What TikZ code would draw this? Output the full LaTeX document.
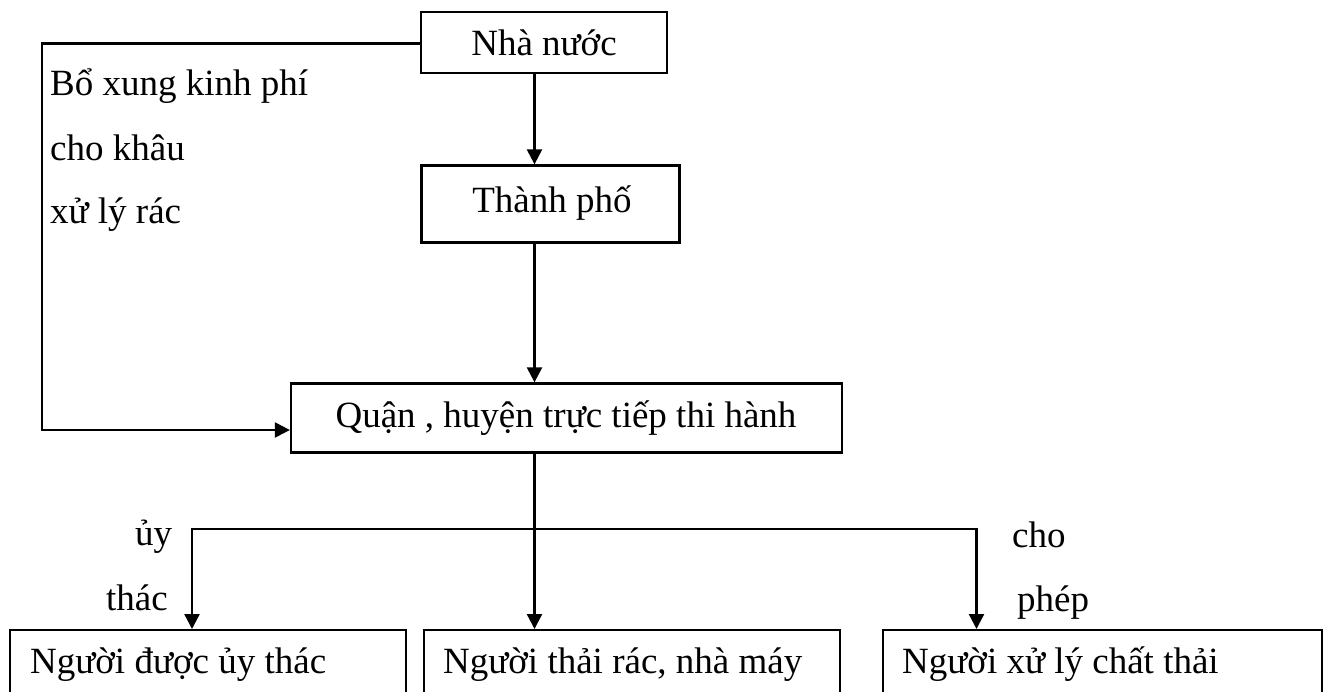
\documentclass[tikz,border=0pt]{standalone}
\usepackage{fontspec}
\setmainfont{Liberation Serif}
\usetikzlibrary{arrows.meta}
\begin{document}
\begin{tikzpicture}[x=1pt,y=-1pt,
  line width=2.3pt,
  box/.style={draw, rectangle, inner sep=0pt, line width=2.3pt},
  txt/.style={anchor=base, inner sep=0pt},
  lbl/.style={anchor=base west, inner sep=0pt},
  arr/.style={-{Triangle[width=15pt,length=15pt]}},
  font=\fontsize{37}{44}\selectfont]
\useasboundingbox (0,0) rectangle (1324,691);
\clip (0,0) rectangle (1324,691);

% boxes
\node[box, minimum width=246pt, minimum height=61pt] (nn) at (544,42.5) {};
\node[box, minimum width=258pt, minimum height=77pt] (tp) at (550.5,204) {};
\node[box, minimum width=551pt, minimum height=69pt] (qh) at (566.5,418) {};
\node[box, anchor=north west, minimum width=396pt, minimum height=150pt] (bl) at (9,629) {};
\node[box, anchor=north west, minimum width=416pt, minimum height=150pt] (bm) at (423,629) {};
\node[box, anchor=north west, minimum width=439pt, minimum height=150pt] (br) at (882,629) {};

% box texts
\node[txt] (nnt) at (544,55) {Nhà nước};
\node[txt] (tpt) at (552,212) {Thành phố};
\node[txt] (qht) at (566,427) {Quận , huyện trực tiếp thi hành};
\node[lbl] (blt) at (29,673) {Người được ủy thác};
\node[lbl] (bmt) at (442,673) {Người thải rác, nhà máy};
\node[lbl] (brt) at (901,673) {Người xử lý chất thải};

% side labels
\node[lbl] (s1) at (49,95) {Bổ xung kinh phí};
\node[lbl] (s2) at (49,160) {cho khâu};
\node[lbl] (s3) at (49,223) {xử lý rác};
\node[lbl] (u1) at (134,545) {ủy};
\node[lbl] (u2) at (105,610) {thác};
\node[lbl] (c1) at (1011,547) {cho};
\node[lbl] (c2) at (1016,611) {phép};

% connector routing points
\coordinate (spine) at (534.5,0);
\coordinate (lc) at (42,430);
\coordinate (bj) at (534.5,529);
\coordinate (lx) at (192,0);
\coordinate (rx) at (976.5,0);

% connectors
\draw[arr] (nn.west |- 0,43.5) -| (lc) -- (lc -| qh.west);
\draw[arr] (spine |- nn.south) -- (spine |- tp.north);
\draw[arr] (spine |- tp.south) -- (spine |- qh.north);
\draw[arr] (spine |- qh.south) -- (spine |- bm.north);
\draw[arr] (bj) -| (lx |- bl.north);
\draw[arr] (bj) -| (rx |- br.north);
\end{tikzpicture}
\end{document}
